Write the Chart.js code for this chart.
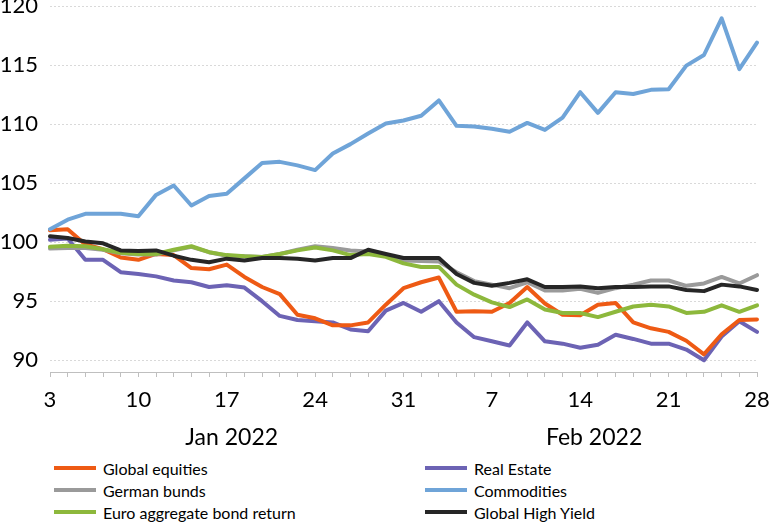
<!DOCTYPE html>
<html><head><meta charset="utf-8">
<script src="https://cdn.jsdelivr.net/npm/chart.js@4"></script>
<style>
body{margin:0;background:#fff;font-family:Lato,sans-serif}
#wrap{position:relative;width:770px;height:522px;overflow:hidden}
#box{position:absolute;left:0;top:0;width:770px;height:455px}
#legend{position:absolute;left:54px;top:457px;display:grid;grid-template-columns:371px 300px}
.item{display:flex;align-items:center;height:22px;font-size:16px;color:#000;white-space:nowrap}
.sw{width:42px;height:4px;margin-right:7px;flex:none}
</style></head>
<body><div id="wrap"><div id="box"><canvas id="c"></canvas></div><div id="legend"></div></div>
<script>
const dates = ['2022-01-03','2022-01-04','2022-01-05','2022-01-06','2022-01-07','2022-01-10','2022-01-11','2022-01-12','2022-01-13','2022-01-14','2022-01-17','2022-01-18','2022-01-19','2022-01-20','2022-01-21','2022-01-24','2022-01-25','2022-01-26','2022-01-27','2022-01-28','2022-01-31','2022-02-01','2022-02-02','2022-02-03','2022-02-04','2022-02-07','2022-02-08','2022-02-09','2022-02-10','2022-02-11','2022-02-14','2022-02-15','2022-02-16','2022-02-17','2022-02-18','2022-02-21','2022-02-22','2022-02-23','2022-02-24','2022-02-25','2022-02-28'];
const monthNames = {'01':'Jan 2022','02':'Feb 2022'};
const yTicks = [90,95,100,105,110,115,120];

const globalEquities = [101.0,101.1,99.8,99.4,98.7,98.5,99.0,98.9,97.8,97.7,98.1,97.05,96.2,95.6,93.85,93.55,92.95,92.95,93.2,94.7,96.1,96.6,97.0,94.1,94.15,94.1,94.85,96.2,94.8,93.85,93.8,94.7,94.85,93.2,92.7,92.4,91.65,90.5,92.2,93.4,93.45];
const realEstate = [100.2,100.3,98.5,98.5,97.45,97.3,97.1,96.75,96.6,96.2,96.35,96.15,95.0,93.75,93.4,93.3,93.2,92.6,92.45,94.2,94.85,94.1,95.0,93.2,91.95,91.6,91.25,93.2,91.6,91.4,91.05,91.3,92.15,91.8,91.4,91.4,90.9,90.0,92.0,93.3,92.4];
const germanBunds = [99.45,99.5,99.5,99.35,99.05,98.95,98.95,99.3,99.6,99.15,98.85,98.8,98.75,99.0,99.35,99.65,99.5,99.3,99.2,98.9,98.45,98.4,98.35,97.45,96.7,96.4,96.1,96.6,95.9,95.9,96.05,95.7,96.1,96.4,96.75,96.75,96.3,96.5,97.05,96.5,97.2];
const commodities = [101.1,101.9,102.4,102.4,102.4,102.2,104.0,104.8,103.1,103.9,104.1,105.4,106.7,106.8,106.5,106.1,107.5,108.3,109.2,110.05,110.3,110.7,112.0,109.85,109.8,109.6,109.35,110.1,109.5,110.55,112.7,110.95,112.7,112.55,112.9,112.95,114.95,115.85,118.95,114.65,116.9];
const euroAggregate = [99.6,99.7,99.65,99.4,99.1,99.0,99.0,99.35,99.65,99.15,98.9,98.8,98.75,99.0,99.3,99.55,99.3,98.9,99.0,98.75,98.2,97.9,97.9,96.4,95.55,94.9,94.5,95.15,94.3,94.0,94.0,93.65,94.1,94.55,94.7,94.55,94.0,94.1,94.65,94.1,94.65];
const globalHighYield = [100.5,100.35,100.05,99.9,99.3,99.25,99.3,98.85,98.5,98.3,98.6,98.45,98.65,98.65,98.6,98.45,98.65,98.65,99.35,99.0,98.65,98.65,98.65,97.3,96.55,96.3,96.55,96.85,96.2,96.2,96.25,96.1,96.2,96.2,96.25,96.25,95.95,95.85,96.4,96.25,95.95];

const seriesNames = ['Global equities','Real Estate','German bunds','Commodities','Euro aggregate bond return','Global High Yield'];
const seriesData = [globalEquities, realEstate, germanBunds, commodities, euroAggregate, globalHighYield];
const seriesColors = ['#EE5A14','#6C63B4','#9A9A9A','#6FA4D8','#8DB83C','#262626'];
const seriesOrder = [4,5,3,1,2,0];

const labels = dates.map(d => String(parseInt(d.slice(8),10)));

const monthPlugin = {
  id:'months',
  afterDraw(chart){
    const sx = chart.scales.x, ctx = chart.ctx;
    const groups = {};
    dates.forEach((d,i)=>{const m=d.slice(5,7);(groups[m]=groups[m]||[]).push(i);});
    ctx.save();
    ctx.font = '23px Lato';
    ctx.fillStyle = '#000';
    ctx.textAlign = 'center';
    ctx.textBaseline = 'middle';
    Object.keys(groups).forEach(m=>{
      const g = groups[m];
      const cx = (sx.getPixelForValue(g[0]) + sx.getPixelForValue(g[g.length-1]))/2;
      ctx.fillText(monthNames[m], cx + 5, sx.top + 66);
    });
    ctx.restore();
  }
};

const chart = new Chart(document.getElementById('c'), {
  type:'line',
  data:{
    labels,
    datasets: seriesNames.map((n,i)=>({
      label:n, data:seriesData[i], borderColor:seriesColors[i], backgroundColor:seriesColors[i],
      borderWidth:4, pointRadius:0, tension:0, borderJoinStyle:'round', borderCapStyle:'round',
      order:seriesOrder[i], fill:false
    }))
  },
  options:{
    responsive:true, maintainAspectRatio:false, animation:false,
    layout:{padding:{left:0,right:13,top:6,bottom:0}},
    plugins:{legend:{display:false}, tooltip:{enabled:false}},
    scales:{
      x:{
        ticks:{autoSkip:false, maxRotation:0, padding:10, color:'#000', font:{family:'Lato',size:22},
          callback:(v,i)=> i%5===0 ? labels[i] : ''},
        grid:{drawOnChartArea:false, drawTicks:true, tickLength:5, color:'#BFBFBF'},
        border:{display:true, color:'#BFBFBF', width:1},
        afterFit:(s)=>{s.height = 83; s.paddingLeft = 0; s.paddingRight = 0;}
      },
      y:{
        min:89, max:120,
        afterBuildTicks:(s)=>{ s.ticks = yTicks.map(v=>({value:v})); },
        ticks:{padding:12, color:'#000', font:{family:'Lato',size:22}},
        grid:{drawTicks:false, color:'#D9D9D9', borderDash:[2,2]},
        border:{display:false, dash:[2,2]},
        afterFit:(s)=>{s.width = 50; s.paddingTop = 0; s.paddingBottom = 0;}
      }
    }
  },
  plugins:[monthPlugin]
});

const lg = document.getElementById('legend');
seriesNames.forEach((n,i)=>{
  const d = document.createElement('div'); d.className='item';
  const s = document.createElement('span'); s.className='sw'; s.style.background = seriesColors[i];
  const t = document.createElement('span'); t.textContent = n;
  d.appendChild(s); d.appendChild(t); lg.appendChild(d);
});
</script>
</body></html>
